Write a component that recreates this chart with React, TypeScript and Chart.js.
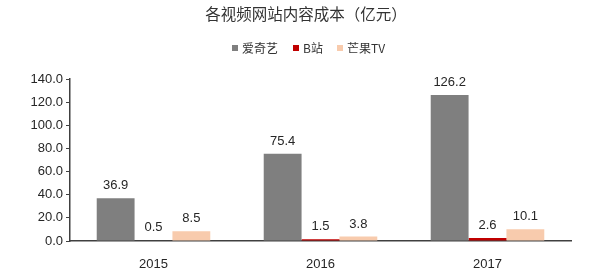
import React, { useEffect, useRef } from "react";
import { Chart, registerables } from "chart.js";

Chart.register(...registerables);

const TITLE = "各视频网站内容成本（亿元）";
const categories = ["2015", "2016", "2017"];
const seriesNames = ["爱奇艺", "B站", "芒果TV"];
const iqiyi = [36.9, 75.4, 126.2];
const bilibili = [0.5, 1.5, 2.6];
const mango = [8.5, 3.8, 10.1];
const colors = ["#7f7f7f", "#c00000", "#f8cbad"];
const yTicks = [0, 20, 40, 60, 80, 100, 120, 140];

const CJK = '"Noto Sans CJK SC", "Liberation Sans", sans-serif';
const LAT = '"Liberation Sans", Arial, sans-serif';

const headerPlugin = {
  id: "header",
  afterDraw(chart: any) {
    const ctx = chart.ctx;
    ctx.save();
    ctx.fillStyle = "#333333";
    ctx.font = `15.5px ${CJK}`;
    ctx.textAlign = "center";
    ctx.textBaseline = "middle";
    ctx.fillText(TITLE, 306, 14);
    // legend
    const items = [
      { box: 232, text: 242 },
      { box: 293, text: 303 },
      { box: 337, text: 347 },
    ];
    ctx.textAlign = "left";
    items.forEach((it, i) => {
      ctx.fillStyle = colors[i];
      ctx.fillRect(it.box, 45, 6, 6);
      ctx.fillStyle = "#333333";
      ctx.font = `12px ${CJK}`;
      ctx.fillText(seriesNames[i], it.text, 48.5);
    });
    ctx.restore();
  },
};

const valueLabels = {
  id: "valueLabels",
  afterDatasetsDraw(chart: any) {
    const ctx = chart.ctx;
    ctx.save();
    ctx.font = `13px ${LAT}`;
    ctx.fillStyle = "#262626";
    ctx.textAlign = "center";
    ctx.textBaseline = "bottom";
    chart.data.datasets.forEach((ds: any, di: number) => {
      const meta = chart.getDatasetMeta(di);
      meta.data.forEach((bar: any, i: number) => {
        ctx.fillText(ds.data[i].toFixed(1), bar.x, bar.y - 6);
      });
    });
    ctx.restore();
  },
};

export default function App() {
  const ref = useRef<HTMLCanvasElement>(null);
  useEffect(() => {
    const chart = new Chart(ref.current!, {
      type: "bar",
      data: {
        labels: categories,
        datasets: [
          { label: seriesNames[0], data: iqiyi, backgroundColor: colors[0] },
          { label: seriesNames[1], data: bilibili, backgroundColor: colors[1] },
          { label: seriesNames[2], data: mango, backgroundColor: colors[2] },
        ],
      },
      options: {
        animation: false,
        responsive: false,
        devicePixelRatio: 1,
        layout: { padding: { top: 79, left: 8, right: 23, bottom: 0 } },
        plugins: {
          legend: { display: false },
          title: { display: false },
          tooltip: { enabled: false },
        },
        datasets: {
          bar: { categoryPercentage: 0.68, barPercentage: 1 },
        },
        scales: {
          x: {
            afterFit: (s: any) => {
              s.height = 30;
            },
            grid: { display: false },
            border: { display: true, color: "#404040", width: 1.5 },
            ticks: { color: "#262626", font: { family: LAT, size: 13 }, padding: 8 },
          },
          y: {
            min: 0,
            max: 140,
            afterFit: (s: any) => {
              s.width = 62;
            },
            afterBuildTicks: (s: any) => {
              s.ticks = yTicks.map((v) => ({ value: v }));
            },
            grid: {
              display: true,
              drawOnChartArea: false,
              drawTicks: true,
              tickLength: 4,
              color: "#404040",
            },
            border: { display: true, color: "#404040", width: 1.5 },
            ticks: {
              color: "#262626",
              font: { family: LAT, size: 13 },
              padding: 3,
              callback: (v: any) => Number(v).toFixed(1),
            },
          },
        },
      },
      plugins: [headerPlugin, valueLabels],
    });
    return () => chart.destroy();
  }, []);
  return (
    <div style={{ position: "fixed", left: 0, top: 0, width: 594, height: 271, background: "#fff" }}>
      <canvas ref={ref} width={594} height={271} style={{ width: 594, height: 271 }} />
    </div>
  );
}
